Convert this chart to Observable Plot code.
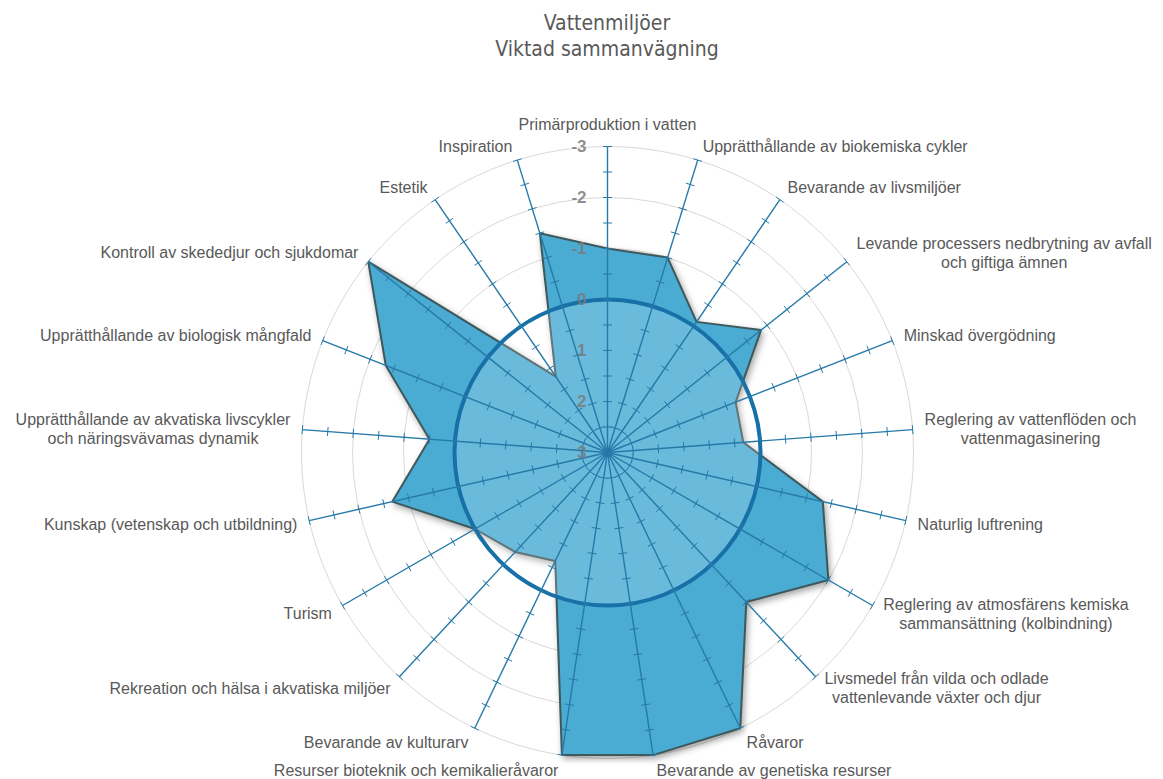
<!DOCTYPE html>
<html lang="sv">
<head>
<meta charset="utf-8">
<script src="https://cdn.jsdelivr.net/npm/d3@7"></script>
<script src="https://cdn.jsdelivr.net/npm/@observablehq/plot@0.6"></script>
<style>
  html, body { margin: 0; padding: 0; background: #fff; overflow: hidden; }
  #header { position: relative; width: 1163px; height: 80px; }
  #title {
    position: absolute; left: 607px; top: 10px; transform: translateX(-50%);
    white-space: nowrap; text-align: center;
    font-family: "Liberation Sans Narrow", "DejaVu Sans Condensed", sans-serif;
    font-size: 21px; line-height: 26px; color: #595959;
  }
</style>
</head>
<body>
<div id="header"><div id="title">Vattenmiljöer<br>Viktad sammanvägning</div></div>
<div id="chart"></div>
<script>
// Ecosystem services, clockwise from the top
const categories = [
  "Primärproduktion i vatten",
  "Upprätthållande av biokemiska cykler",
  "Bevarande av livsmiljöer",
  "Levande processers nedbrytning av avfall\noch giftiga ämnen",
  "Minskad övergödning",
  "Reglering av vattenflöden och\nvattenmagasinering",
  "Naturlig luftrening",
  "Reglering av atmosfärens kemiska\nsammansättning (kolbindning)",
  "Livsmedel från vilda och odlade\nvattenlevande växter och djur",
  "Råvaror",
  "Bevarande av genetiska resurser",
  "Resurser bioteknik och kemikalieråvaror",
  "Bevarande av kulturarv",
  "Rekreation och hälsa i akvatiska miljöer",
  "Turism",
  "Kunskap (vetenskap och utbildning)",
  "Upprätthållande av akvatiska livscykler\noch näringsvävamas dynamik",
  "Upprätthållande av biologisk mångfald",
  "Kontroll av skededjur och sjukdomar",
  "Estetik",
  "Inspiration"
];

// Weighted score per service
const scores = [-1, -1, -0.1, -0.85, 0.3, 0.33, -1.33, -2, -1, -3, -3, -3, 0.64, 0.34, 0, -1.33, -0.5, -1.67, -3, 1.2, -1.5];

// Radial axis: 3 at the centre, -3 at the rim
const axisTicks = [-3, -2, -1, 0, 1, 2, 3];
const axisTickLabels = ["-3", "-2", "-1", "0", "1", "2", "3"];
const gridLevels = [-3, -2, -1, 1, 2];
const minorStep = 0.5;

// Layout
const W = 1163, H = 699, cx = 607, cy = 372, R = 306;
const labelFont = '16px "Liberation Sans", Arial, sans-serif';

const n = categories.length;
const rScale = d3.scaleLinear().domain([3, -3]).range([0, R]);
const angle = i => (i * 2 * Math.PI) / n;
const px = (r, i) => r * Math.sin(angle(i));
const py = (r, i) => r * Math.cos(angle(i));

const idx = d3.range(n);

// Tick marks across every spoke
const tickVals = d3.range(-3, 3 + 1e-9, minorStep);
const half = 4.5;
const ticks = idx.flatMap(i => tickVals.map(t => {
  const r = rScale(t), a = angle(i);
  const bx = px(r, i), by = py(r, i);
  const ux = Math.cos(a), uy = -Math.sin(a);
  return {x1: bx - ux * half, y1: by - uy * half, x2: bx + ux * half, y2: by + uy * half};
}));

// Category labels placed just beyond the spoke ends
const ctx = document.createElement("canvas").getContext("2d");
ctx.font = labelFont;
const lineH = 19;
const labels = idx.map(i => {
  const a = angle(i), s = Math.sin(a), c = Math.cos(a);
  const lines = categories[i].split("\n");
  const w = d3.max(lines, l => ctx.measureText(l).width);
  const h = lines.length * lineH;
  const rr = R + 10;
  let x = rr * s, y = rr * c;
  if (Math.abs(s) > 0.02) x += Math.sign(s) * (w / 2 + 2);
  if (c > 0.99) y += h / 2 + 3;
  else if (c < -0.98) y -= 5;
  else y += 5 * c;
  return {x, y, text: categories[i]};
});

const chart = Plot.plot({
  width: W,
  height: H,
  margin: 0,
  x: {domain: [-cx, W - cx], axis: null},
  y: {domain: [-(H - cy), cy], axis: null},
  r: {type: "identity"},
  style: {background: "#fff", fontFamily: '"Liberation Sans", Arial, sans-serif', overflow: "visible"},
  marks: [
    // circular gridlines
    Plot.dot(gridLevels, {x: 0, y: 0, r: v => rScale(v), fill: "none", stroke: "#d9d9d9", strokeWidth: 1}),
    // filled score polygon
    Plot.line(idx, {
      x: i => px(rScale(scores[i]), i),
      y: i => py(rScale(scores[i]), i),
      curve: "linear-closed",
      fill: "#4aabd3",
      stroke: "#3e585c",
      strokeWidth: 2,
      strokeLinejoin: "miter"
    }),
    // zero reference ring
    Plot.dot([0], {x: 0, y: 0, r: () => rScale(0), fill: "#fff", fillOpacity: 0.18, stroke: "#1870a8", strokeWidth: 4}),
    // spokes
    Plot.link(idx, {x1: 0, y1: 0, x2: i => px(rScale(-3), i), y2: i => py(rScale(-3), i), stroke: "#2679a8", strokeWidth: 1.4}),
    Plot.link(ticks, {x1: "x1", y1: "y1", x2: "x2", y2: "y2", stroke: "#2679a8", strokeWidth: 1}),
    // radial axis values along the top spoke
    Plot.text(axisTicks, {
      x: 0, y: v => rScale(v), text: (v, j) => axisTickLabels[j],
      textAnchor: "end", dx: -21, fontSize: 17, fill: "#7a7a7a", fontWeight: "bold", fillOpacity: 0.85
    }),
    // category labels
    Plot.text(labels, {
      x: "x", y: "y", text: "text", textAnchor: "middle", lineAnchor: "middle",
      lineHeight: lineH / 16, fontSize: 16, fill: "#595959"
    })
  ]
});

d3.select(chart).selectAll('g[aria-label="line"]')
  .style("filter", "drop-shadow(2px 3px 3px rgba(0,0,0,0.35))");

document.getElementById("chart").appendChild(chart);
</script>
</body>
</html>
